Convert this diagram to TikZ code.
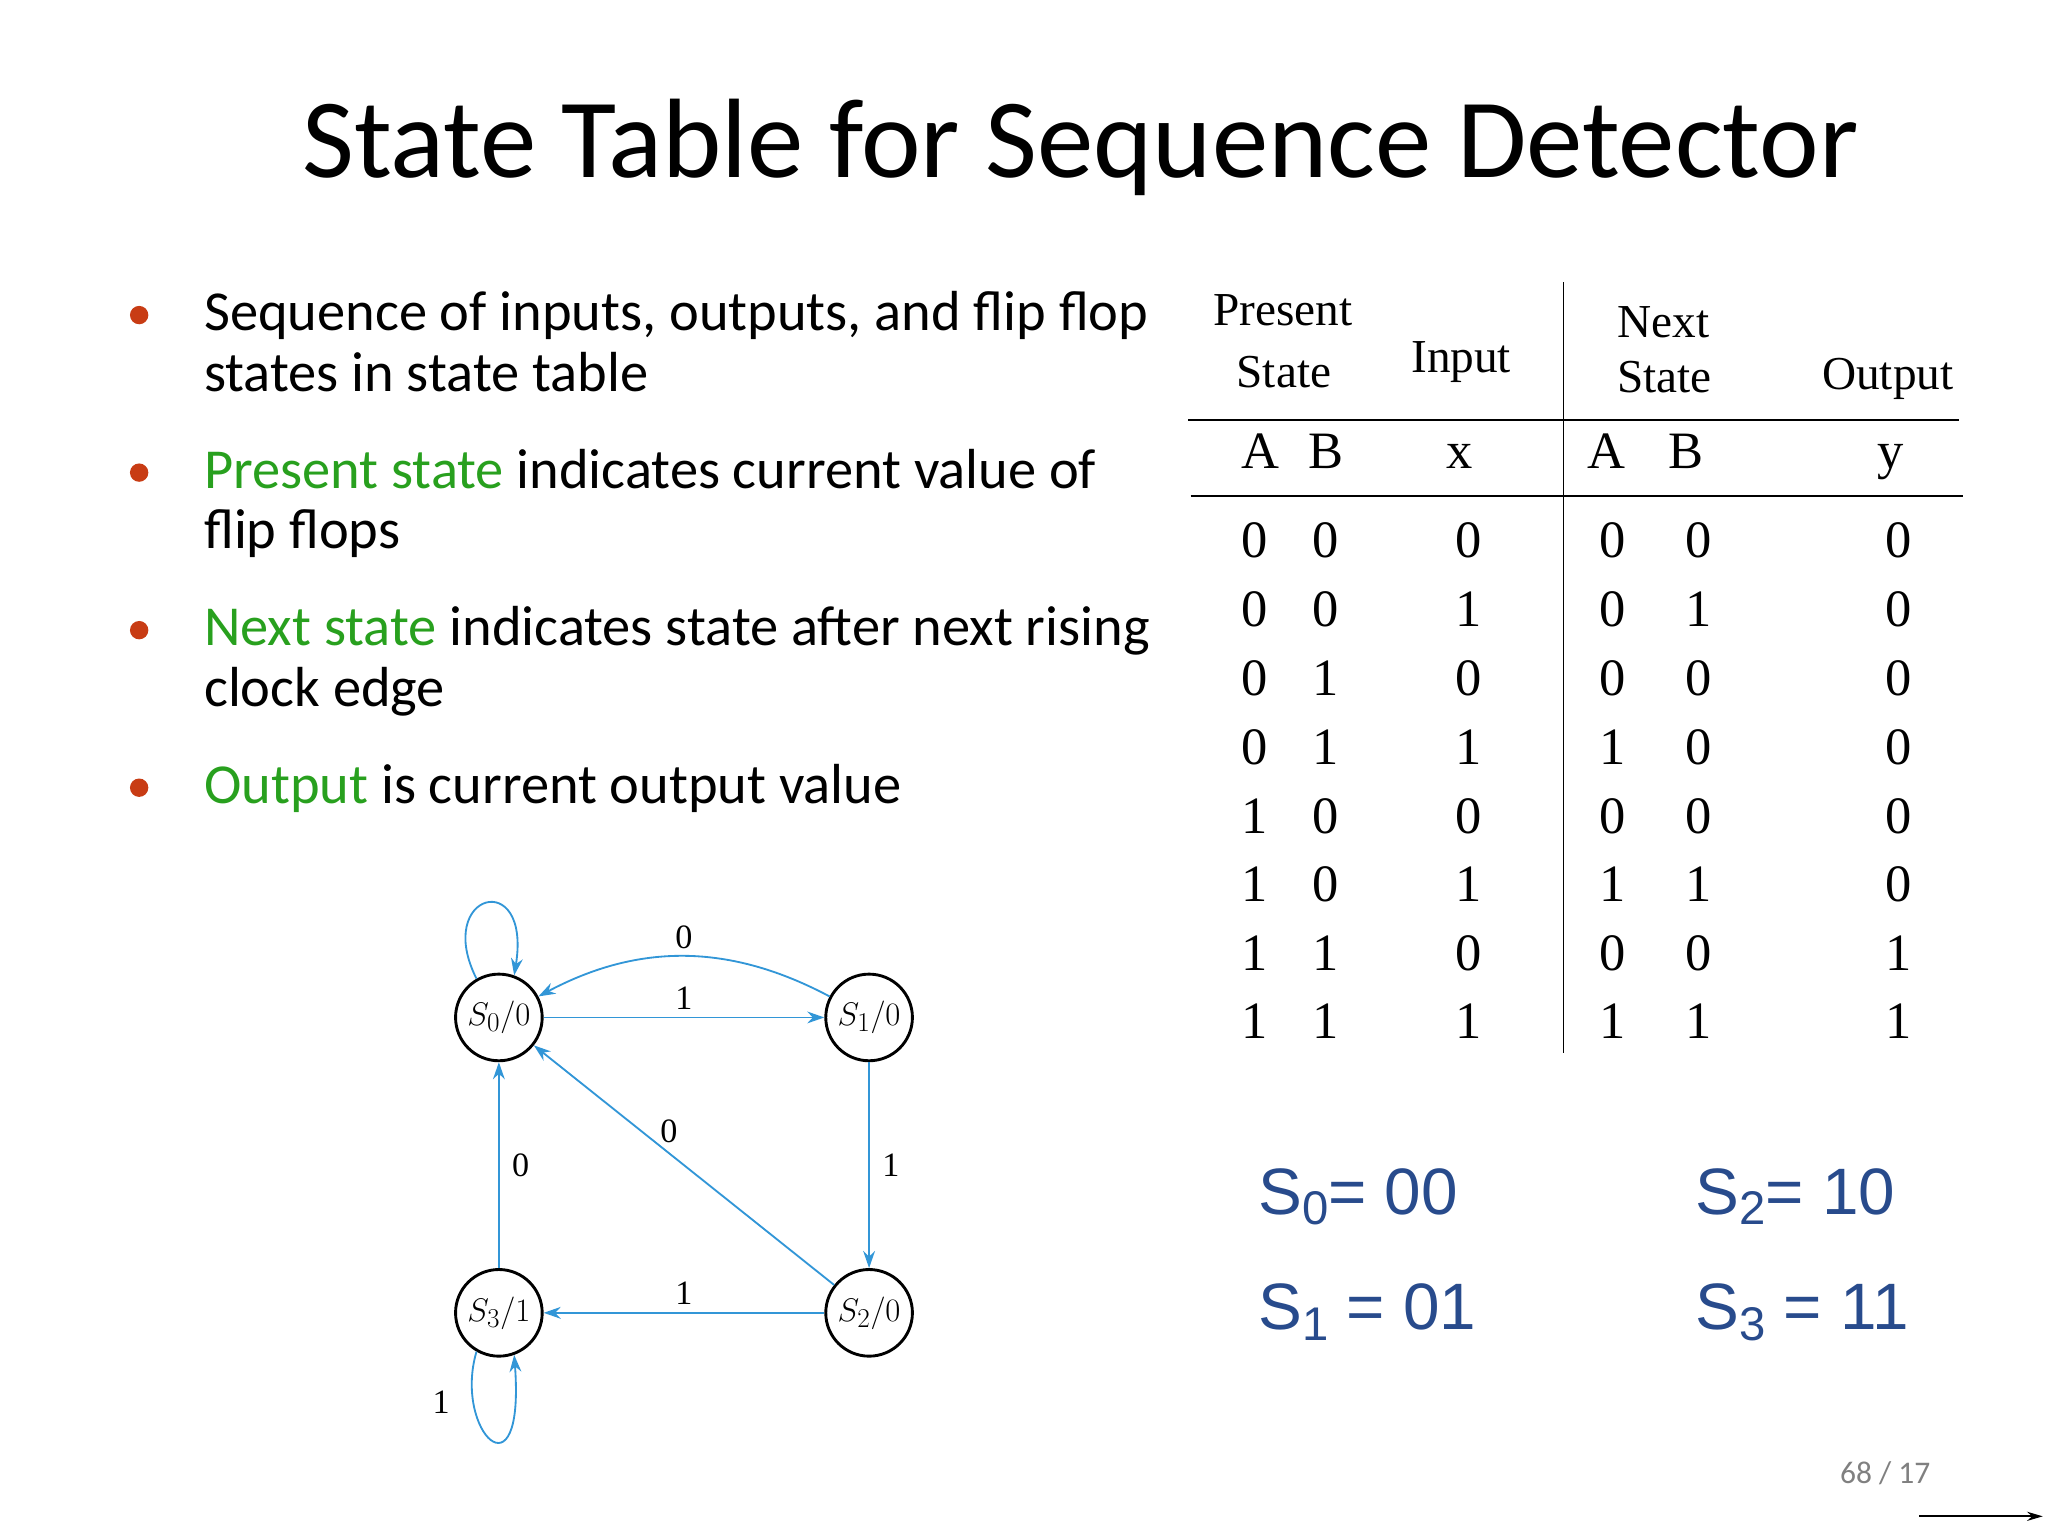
\documentclass[tikz,border=0pt]{standalone}
\usepackage{fontspec}
\setmainfont{Liberation Serif}
\newfontfamily\calfnt{Carlito}
\newfontfamily\arsfnt{Liberation Sans}
\usetikzlibrary{arrows.meta}
\definecolor{grn}{RGB}{40,160,30}
\definecolor{bul}{RGB}{200,60,20}
\definecolor{sblue}{RGB}{40,75,140}
\definecolor{eblue}{RGB}{50,150,215}
\begin{document}
\begin{tikzpicture}[x=1pt,y=-1pt,
  title/.style={font=\calfnt\fontsize{86}{90}\selectfont,anchor=base},
  btxt/.style={font=\calfnt\fontsize{43}{46}\selectfont,anchor=base west},
  bdot/.style={circle,fill=bul,inner sep=0pt,minimum size=14pt},
  th/.style={font=\fontsize{36}{40}\selectfont,anchor=base},
  td/.style={font=\fontsize{40}{44}\selectfont,anchor=base},
  sa/.style={font=\arsfnt\fontsize{50}{56}\selectfont,text=sblue,anchor=base west},
  st/.style={circle,draw,line width=2.2pt,minimum size=66pt,inner sep=0pt,font=\fontsize{30}{32}\selectfont},
  ed/.style={draw=eblue,line width=1.4pt,-{Stealth[length=13pt,width=9pt]}},
  el/.style={font=\fontsize{26}{28}\selectfont}]
\useasboundingbox (0,0) rectangle (1560,1170);
\node[title] (t) at (823,135) {State Table for Sequence Detector};
% bullets
\foreach \y/\n in {240/b1,360/b2,480/b3,600/b4} \node[bdot] (\n) at (106,\y) {};
\node[btxt] (l1) at (152,252) {Sequence of inputs, outputs, and flip flop};
\node[btxt] (l2) at (152,298) {states in state table};
\node[btxt] (l3) at (152,372) {\textcolor{grn}{Present state} indicates current value of};
\node[btxt] (l4) at (152,418) {flip flops};
\node[btxt] (l5) at (152,492) {\textcolor{grn}{Next state} indicates state after next rising};
\node[btxt] (l6) at (152,538) {clock edge};
\node[btxt] (l7) at (152,612) {\textcolor{grn}{Output} is current output value};
% table
\draw[line width=1.3pt] (1191,215) -- (1191,802);
\draw[line width=1.3pt] (905,320) -- (1492,320);
\draw[line width=1.3pt] (907,378) -- (1495,378);
\node[th] (h1) at (977,248) {Present};
\node[th] (h2) at (978,295) {State};
\node[th] (h3) at (1113,284) {Input};
\node[th] (h4) at (1267,257) {Next};
\node[th] (h5) at (1268,299) {State};
\node[th] (h6) at (1438,297) {Output};
\foreach \x/\t in {960/A,1010/B,1112/x,1224/A,1284/B,1440/y}
  \node[td] at (\x,357) {\t};
\foreach \y/\a/\b/\c/\d/\e/\f in {425/0/0/0/0/0/0,477/0/0/1/0/1/0,530/0/1/0/0/0/0,582/0/1/1/1/0/0,635/1/0/0/0/0/0,687/1/0/1/1/1/0,739/1/1/0/0/0/1,791/1/1/1/1/1/1}{
  \node[td] at (956,\y) {\a}; \node[td] at (1010,\y) {\b};
  \node[td] at (1119,\y) {\c}; \node[td] at (1228,\y) {\d};
  \node[td] at (1294,\y) {\e}; \node[td] at (1446,\y) {\f};}
% assignments
\node[sa] (a0) at (955,925) {S\raisebox{-0.3ex}{\fontsize{36}{40}\selectfont 0}= 00};
\node[sa] (a1) at (955,1013) {S\raisebox{-0.3ex}{\fontsize{36}{40}\selectfont 1} = 01};
\node[sa] (a2) at (1288,925) {S\raisebox{-0.3ex}{\fontsize{36}{40}\selectfont 2}= 10};
\node[sa] (a3) at (1288,1013) {S\raisebox{-0.3ex}{\fontsize{36}{40}\selectfont 3} = 11};
\node[font=\calfnt\fontsize{24}{26}\selectfont,text=gray,anchor=base] (pg) at (1436,1130) {68 / 17};
\coordinate (ar1) at (1462,1155); \coordinate (ar2) at (1556,1155);
\draw[line width=1.3pt,-{Stealth[length=12pt,width=7pt]}] (ar1) -- (ar2);
% state diagram
\node[st] (s0) at (380,775) {$S_0/0$};
\node[st] (s1) at (662,775) {$S_1/0$};
\node[st] (s2) at (662,1000) {$S_2/0$};
\node[st] (s3) at (380,1000) {$S_3/1$};
\path[ed] (s0) -- node[el,above=2pt] {1} (s1);
\path[ed] (s1) to[bend right=28] node[el,above=2pt] {0} (s0);
\path[ed] (s1) -- node[el,right=6pt] {1} (s2);
\path[ed] (s2) -- node[el,above=2pt] {1} (s3);
\path[ed] (s3) -- node[el,right=6pt] {0} (s0);
\path[ed] (s2) -- node[el,above=4pt,pos=0.55] {0} (s0);
\path[ed] (s0.120) .. controls (330,680) and (405,660) .. (s0.70);
\path[ed] (s3.240) .. controls (345,1090) and (400,1145) .. (s3.290);
\node[el] (lp) at (336,1068) {1};
\end{tikzpicture}
\end{document}
